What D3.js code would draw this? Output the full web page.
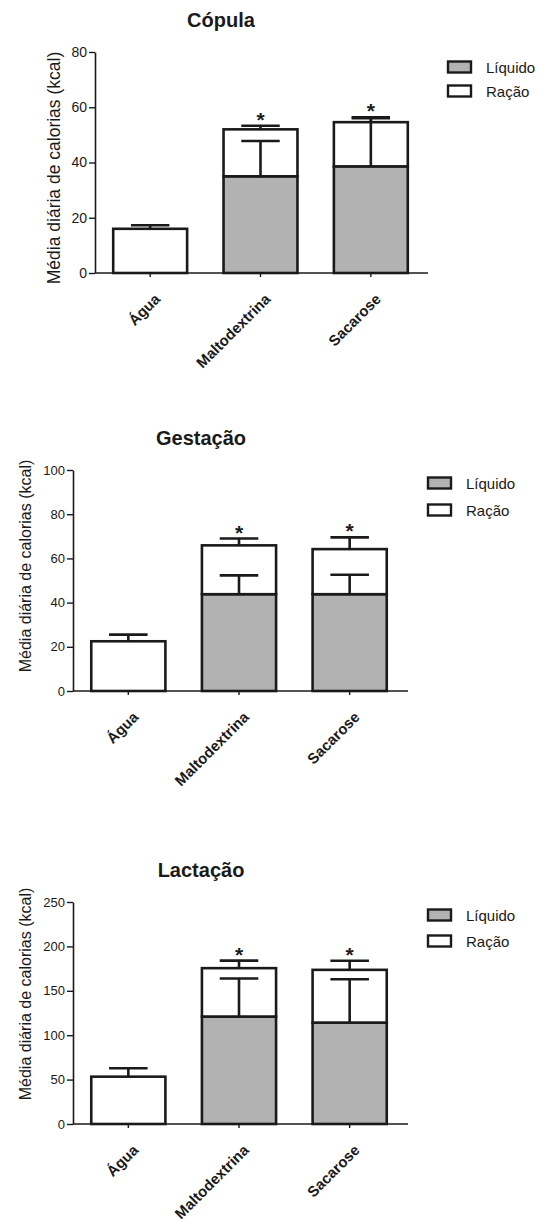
<!DOCTYPE html>
<html>
<head>
<meta charset="utf-8">
<script src="https://cdn.jsdelivr.net/npm/d3@7"></script>
<style>
  html, body { margin: 0; padding: 0; background: #ffffff; }
  svg { display: block; }
  text { font-family: "Liberation Sans", Arial, sans-serif; fill: #1a1a1a; }
</style>
</head>
<body>
<script>
// Groups shared by the three periods
const categories = ["Água", "Maltodextrina", "Sacarose"];
const seriesNames = ["Líquido", "Ração"];

// Cópula (kcal/day)
const copulaLiquido = [0, 35, 38.6];
const copulaLiquidoErro = [0, 12.8, 17.4];
const copulaRacao = [16, 17, 16];
const copulaTotalErro = [1.3, 1.3, 1.8];
const copulaTicks = [0, 20, 40, 60, 80];

// Gestação (kcal/day)
const gestacaoLiquido = [0, 43.8, 43.8];
const gestacaoLiquidoErro = [0, 8.5, 8.8];
const gestacaoRacao = [22.5, 22.1, 20.4];
const gestacaoTotalErro = [3, 3.1, 5.3];
const gestacaoTicks = [0, 20, 40, 60, 80, 100];

// Lactação (kcal/day)
const lactacaoLiquido = [0, 121, 114.2];
const lactacaoLiquidoErro = [0, 42.8, 48.8];
const lactacaoRacao = [53.3, 54.5, 59.4];
const lactacaoTotalErro = [9.5, 8.5, 10.2];
const lactacaoTicks = [0, 50, 100, 150, 200, 250];

// Significance marks per group
const significancia = ["", "*", "*"];

const yTitle = "Média diária de calorias (kcal)";
const FILL_LIQUIDO = "#b2b2b2";
const INK = "#1a1a1a";

const svg = d3.select("body").append("svg")
  .attr("width", 544)
  .attr("height", 1222);

function drawPanel(p) {
  const g = svg.append("g");

  const x = d3.scaleBand()
    .domain(categories)
    .range([p.left, p.right])
    .paddingInner(0.33)
    .paddingOuter(0.165);

  const y = d3.scaleLinear()
    .domain([0, d3.max(p.ticks)])
    .range([p.bottom, p.top]);

  const bw = x.bandwidth();
  const capW = bw * 0.52;

  const rows = categories.map((c, i) => ({
    cat: c,
    liq: p.liquido[i],
    liqErr: p.liquidoErro[i],
    rac: p.racao[i],
    totErr: p.totalErro[i],
    sig: significancia[i]
  }));

  // stacked bars: Líquido at the bottom, Ração on top
  const bars = g.append("g");
  rows.forEach(r => {
    if (r.liq > 0) {
      bars.append("rect")
        .attr("x", x(r.cat)).attr("width", bw)
        .attr("y", y(r.liq)).attr("height", y(0) - y(r.liq))
        .attr("fill", FILL_LIQUIDO).attr("stroke", INK).attr("stroke-width", 2.6);
    }
    bars.append("rect")
      .attr("x", x(r.cat)).attr("width", bw)
      .attr("y", y(r.liq + r.rac)).attr("height", y(r.liq) - y(r.liq + r.rac))
      .attr("fill", "#ffffff").attr("stroke", INK).attr("stroke-width", 2.6);
  });

  // error bars (upper half only)
  const err = g.append("g").attr("stroke", INK).attr("stroke-width", 2.6);
  function errorBar(cx, v0, v1) {
    err.append("line").attr("x1", cx).attr("x2", cx).attr("y1", y(v0)).attr("y2", y(v1));
    err.append("line").attr("x1", cx - capW / 2).attr("x2", cx + capW / 2).attr("y1", y(v1)).attr("y2", y(v1));
  }
  rows.forEach(r => {
    const cx = x(r.cat) + bw / 2;
    if (r.liq > 0 && r.liqErr > 0) errorBar(cx, r.liq, r.liq + r.liqErr);
    errorBar(cx, r.liq + r.rac, r.liq + r.rac + r.totErr);
  });

  // significance asterisks
  g.append("g").selectAll("text")
    .data(rows.filter(r => r.sig))
    .join("text")
    .attr("x", r => x(r.cat) + bw / 2)
    .attr("y", r => y(r.liq + r.rac + r.totErr) + 1)
    .attr("text-anchor", "middle")
    .attr("font-size", 21)
    .attr("font-weight", "bold")
    .text(r => r.sig);

  // y axis
  const yAxis = g.append("g")
    .attr("transform", `translate(${p.left},0)`)
    .call(d3.axisLeft(y).tickValues(p.ticks).tickSize(6).tickSizeOuter(0).tickPadding(2));
  yAxis.select(".domain").attr("stroke", INK).attr("stroke-width", 1.6);
  yAxis.selectAll(".tick line").attr("stroke", INK).attr("stroke-width", 1.4);
  yAxis.selectAll(".tick text")
    .attr("font-size", p.tickSize)
    .attr("font-family", "'Liberation Sans', Arial, sans-serif")
    .attr("fill", INK);

  // x axis
  const xAxis = g.append("g")
    .attr("transform", `translate(0,${p.bottom})`)
    .call(d3.axisBottom(x).tickSize(4).tickSizeOuter(0));
  xAxis.select(".domain").attr("stroke", INK).attr("stroke-width", 1.6)
    .attr("d", `M${p.left},0H${p.axisEnd}`);
  xAxis.selectAll(".tick line").attr("stroke", INK).attr("stroke-width", 1.4);
  xAxis.selectAll(".tick text")
    .attr("x", 0).attr("y", 0).attr("dy", 0)
    .attr("text-anchor", "end")
    .attr("transform", "translate(11,27) rotate(-45)")
    .attr("font-size", p.catSize)
    .attr("font-weight", "bold")
    .attr("font-family", "'Liberation Sans', Arial, sans-serif")
    .attr("fill", INK);

  // y axis title
  g.append("text")
    .attr("transform", `translate(${p.yTitleX},${p.yTitleY}) rotate(-90)`)
    .attr("text-anchor", "middle")
    .attr("font-size", p.yTitleSize)
    .text(yTitle);

  // panel title
  g.append("text")
    .attr("x", p.titleX).attr("y", p.titleY)
    .attr("text-anchor", "middle")
    .attr("font-size", 20)
    .attr("font-weight", "bold")
    .text(p.title);

  // legend
  const leg = g.append("g").attr("transform", `translate(${p.legendX},${p.legendY})`);
  seriesNames.forEach((name, i) => {
    const row = leg.append("g").attr("transform", `translate(0,${i * p.legendGap})`);
    row.append("rect")
      .attr("x", 0).attr("y", -5.5).attr("width", 23).attr("height", 11)
      .attr("fill", i === 0 ? FILL_LIQUIDO : "#ffffff")
      .attr("stroke", INK).attr("stroke-width", 2.4);
    row.append("text")
      .attr("x", 38).attr("y", 5.5)
      .attr("font-size", 15)
      .text(name);
  });
}

drawPanel({
  title: "Cópula", titleX: 221, titleY: 27,
  liquido: copulaLiquido, liquidoErro: copulaLiquidoErro,
  racao: copulaRacao, totalErro: copulaTotalErro, ticks: copulaTicks,
  left: 95, right: 426, axisEnd: 428, top: 52, bottom: 273,
  tickSize: 14, catSize: 15, yTitleSize: 17.5, yTitleX: 60, yTitleY: 168,
  legendX: 448, legendY: 67, legendGap: 24
});

drawPanel({
  title: "Gestação", titleX: 201, titleY: 445,
  liquido: gestacaoLiquido, liquidoErro: gestacaoLiquidoErro,
  racao: gestacaoRacao, totalErro: gestacaoTotalErro, ticks: gestacaoTicks,
  left: 73, right: 405, axisEnd: 408, top: 470, bottom: 691,
  tickSize: 13, catSize: 15, yTitleSize: 16, yTitleX: 31, yTitleY: 566,
  legendX: 428, legendY: 483, legendGap: 27
});

drawPanel({
  title: "Lactação", titleX: 201, titleY: 877,
  liquido: lactacaoLiquido, liquidoErro: lactacaoLiquidoErro,
  racao: lactacaoRacao, totalErro: lactacaoTotalErro, ticks: lactacaoTicks,
  left: 73, right: 405, axisEnd: 408, top: 902, bottom: 1124,
  tickSize: 13, catSize: 15, yTitleSize: 16, yTitleX: 31, yTitleY: 994,
  legendX: 428, legendY: 915, legendGap: 26
});
</script>
</body>
</html>
